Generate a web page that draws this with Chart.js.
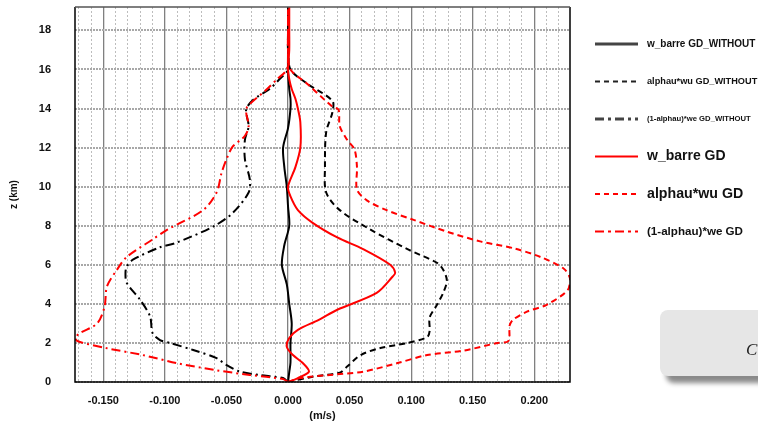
<!DOCTYPE html>
<html>
<head>
<meta charset="utf-8">
<script src="https://cdn.jsdelivr.net/npm/chart.js@4.4.0/dist/chart.umd.min.js"></script>
<style>
  html, body { margin: 0; padding: 0; background: #fff; }
  #wrap { position: relative; width: 758px; height: 423px; overflow: hidden; }
  #note { position: absolute; left: 660px; top: 310px; width: 140px; height: 66px;
          background: #e6e6e6; border-radius: 8px; box-shadow: 6px 7px 5px #8a8a8a; }
  #note span { position: absolute; left: 86px; top: 30px; font: italic 17px "Liberation Serif", serif; color: #222; }
</style>
</head>
<body>
<div id="wrap">
  <canvas id="myChart" width="758" height="423"></canvas>
  <div id="note"><span>C</span></div>
</div>
<script>
// tick labels
var xTicks = [-0.15, -0.10, -0.05, 0.00, 0.05, 0.10, 0.15, 0.20];
var yTicks = [0, 2, 4, 6, 8, 10, 12, 14, 16, 18];

// w_barre GD_WITHOUT
var zWbarreWithout = [0, 0.5, 1, 2, 3, 4, 5, 6, 7, 8, 9, 10, 11, 12, 13, 14, 14.5, 15, 16, 17, 18, 19.2];
var wbarreWithout  = [0, 0.001, 0.002, 0.002, 0.003, 0.001, -0.001, -0.005, -0.003, 0.001, 0.000, -0.001, -0.003, -0.004, 0.000, 0.002, 0.002, 0.001, 0, 0, 0, 0];

// alphau*wu GD_WITHOUT
var zWuWithout = [0, 0.27, 0.48, 0.79, 1.38, 1.74, 2.0, 2.3, 2.6, 3.3, 3.85, 4.56, 5.2, 5.75, 6.1, 6.8, 7.8, 8.8, 9.7, 11, 12.8, 13.8, 14.4, 15.3, 16, 17, 18, 19.2];
var wuWithout  = [0, 0.020, 0.042, 0.048, 0.059, 0.075, 0.097, 0.113, 0.115, 0.115, 0.120, 0.126, 0.129, 0.126, 0.121, 0.097, 0.067, 0.042, 0.031, 0.030, 0.031, 0.036, 0.036, 0.015, 0.002, 0, 0, 0];

// (1-alphau)*we GD_WITHOUT
var zWeWithout = [0, 0.2, 0.36, 0.53, 0.87, 1.22, 1.64, 2.0, 2.15, 2.5, 3.35, 4.2, 5.08, 5.6, 5.9, 6.26, 6.9, 7.1, 7.95, 8.65, 9.7, 10.36, 11.4, 12.4, 13.1, 13.95, 14.46, 15, 15.5, 16, 17, 18, 19.2];
var weWithout  = [0, -0.004, -0.023, -0.039, -0.050, -0.058, -0.077, -0.096, -0.104, -0.110, -0.112, -0.120, -0.131, -0.132, -0.131, -0.126, -0.104, -0.092, -0.061, -0.045, -0.032, -0.031, -0.035, -0.035, -0.032, -0.034, -0.028, -0.015, -0.007, 0, 0, 0, 0];

// w_barre GD
var zWbarreGd = [0, 0.2, 0.53, 0.97, 1.38, 1.8, 2.25, 2.67, 3.18, 3.7, 4.56, 5.4, 5.6, 6, 6.8, 7.4, 8.15, 8.8, 9.5, 10, 11, 12, 13.3, 14, 14.5, 15, 15.5, 16, 17, 18, 19.2];
var wbarreGd  = [0, 0.008, 0.017, 0.012, 0.004, -0.001, 0.001, 0.008, 0.025, 0.040, 0.072, 0.085, 0.087, 0.083, 0.061, 0.040, 0.020, 0.008, 0.002, 0, 0.006, 0.010, 0.010, 0.008, 0.006, 0.003, 0.001, 0, 0.001, 0.001, 0.001];

// alphau*wu GD
var zWuGd = [0, 0.2, 0.36, 0.53, 0.97, 1.38, 1.6, 2.0, 2.1, 2.9, 3.2, 3.6, 3.95, 4.7, 5.3, 5.8, 6.4, 6.85, 7.2, 7.7, 8.3, 8.8, 9.3, 9.85, 11, 11.9, 12.4, 13.1, 13.95, 14.1, 15.3, 16, 17, 18, 19.2];
var wuGd  = [0, 0.010, 0.034, 0.061, 0.089, 0.113, 0.142, 0.170, 0.179, 0.180, 0.183, 0.194, 0.210, 0.227, 0.229, 0.224, 0.205, 0.183, 0.156, 0.129, 0.102, 0.080, 0.064, 0.056, 0.056, 0.054, 0.048, 0.042, 0.041, 0.036, 0.015, 0.002, 0, 0, 0];

// (1-alphau)*we GD
var zWeGd = [0, 0.15, 0.36, 0.6, 0.96, 1.38, 1.74, 2.07, 2.25, 2.5, 3.0, 3.86, 4.9, 5.74, 6.4, 7.3, 7.8, 8.8, 9.7, 10.7, 11.4, 12.05, 12.6, 13.1, 13.8, 14.1, 15, 15.5, 16, 17, 18, 19.2];
var weGd  = [0, -0.004, -0.031, -0.058, -0.090, -0.118, -0.148, -0.170, -0.173, -0.169, -0.155, -0.149, -0.147, -0.139, -0.131, -0.110, -0.098, -0.069, -0.058, -0.054, -0.050, -0.045, -0.035, -0.032, -0.034, -0.033, -0.017, -0.009, -0.001, 0, 0, 0];

function pts(zs, vs) {
  return zs.map(function(z, i) { return {x: vs[i], y: z}; });
}

var DASH = [6, 4];
var DASHDOT = [9, 4, 2, 4];

var datasets = [
  {label: 'w_barre GD_WITHOUT', data: pts(zWbarreWithout, wbarreWithout), borderColor: '#000', borderDash: [], order: 3, legendColor: '#444', legendSize: 10, legendWidth: 3},
  {label: 'alphau*wu GD_WITHOUT', data: pts(zWuWithout, wuWithout), borderColor: '#000', borderDash: DASH, order: 3, legendColor: '#222', legendSize: 9.2, legendWidth: 2},
  {label: '(1-alphau)*we GD_WITHOUT', data: pts(zWeWithout, weWithout), borderColor: '#000', borderDash: DASHDOT, order: 3, legendColor: '#444', legendSize: 7.7, legendWidth: 3},
  {label: 'w_barre GD', data: pts(zWbarreGd, wbarreGd), borderColor: '#ff0000', borderDash: [], order: 0, legendColor: '#ff0000', legendSize: 14, legendWidth: 2},
  {label: 'alphau*wu GD', data: pts(zWuGd, wuGd), borderColor: '#ff0000', borderDash: DASH, order: 1, legendColor: '#ff0000', legendSize: 14.2, legendWidth: 2},
  {label: '(1-alphau)*we GD', data: pts(zWeGd, weGd), borderColor: '#ff0000', borderDash: DASHDOT, order: 2, legendColor: '#ff0000', legendSize: 11.6, legendWidth: 2}
];
datasets.forEach(function(d) {
  d.showLine = true;
  d.pointRadius = 0;
  d.borderWidth = 2;
  d.tension = 0.3;
  d.fill = false;
});

// legend with different font sizes per entry + plot frame
var sidePlugin = {
  id: 'side',
  afterDraw: function(chart) {
    var ctx = chart.ctx, a = chart.chartArea;
    ctx.save();
    ctx.lineWidth = 1.5;
    ctx.strokeStyle = '#000';
    ctx.beginPath();
    ctx.moveTo(a.left, a.top); ctx.lineTo(a.left, a.bottom);
    ctx.lineTo(a.right, a.bottom); ctx.lineTo(a.right, a.top);
    ctx.stroke();
    ctx.strokeStyle = '#555';
    ctx.beginPath();
    ctx.moveTo(a.left, a.top); ctx.lineTo(a.right, a.top);
    ctx.stroke();

    chart.data.datasets.forEach(function(d, i) {
      var y = 44 + i * 37.5;
      ctx.strokeStyle = d.legendColor;
      ctx.lineWidth = d.legendWidth;
      ctx.setLineDash(d.borderDash.length ? (d.borderDash.length == 2 ? [5, 4] : [9, 4, 3, 4]) : []);
      ctx.beginPath();
      ctx.moveTo(595, y); ctx.lineTo(638, y);
      ctx.stroke();
      ctx.setLineDash([]);
      ctx.fillStyle = '#111';
      ctx.font = 'bold ' + d.legendSize + 'px "Liberation Sans", Arial, sans-serif';
      ctx.textBaseline = 'middle';
      ctx.textAlign = 'left';
      ctx.fillText(d.label, 647, y);
    });
    ctx.restore();
  }
};

var config = {
  type: 'scatter',
  data: {datasets: datasets},
  options: {
    responsive: false,
    animation: false,
    layout: {padding: {top: 7, right: 188, left: 0, bottom: 0}},
    plugins: {legend: {display: false}, tooltip: {enabled: false}},
    scales: {
      x: {
        type: 'linear',
        min: -0.173,
        max: 0.229,
        afterBuildTicks: function(scale) {
          var t = [];
          for (var k = -17; k <= 22; k++) t.push({value: k / 100});
          scale.ticks = t;
        },
        afterFit: function(scale) {
          scale.height = 41;
          scale.paddingLeft = 0;
          scale.paddingRight = 0;
        },
        ticks: {
          padding: 12,
          color: '#111',
          font: {family: '"Liberation Sans", Arial, sans-serif', size: 11, weight: 'bold'},
          autoSkip: false,
          maxRotation: 0,
          callback: function(v) {
            var k = Math.round(v * 100);
            return k % 5 === 0 ? (k / 100).toFixed(3) : '';
          }
        },
        grid: {
          drawTicks: false,
          color: function(c) {
            if (!c.tick) return '#999';
            return Math.round(c.tick.value * 100) % 5 === 0 ? '#808080' : '#bdbdbd';
          },
          lineWidth: function(c) {
            if (!c.tick) return 1;
            return Math.round(c.tick.value * 100) % 5 === 0 ? 1.3 : 1;
          }
        },
        border: {
          display: false,
          dash: function(c) {
            if (!c.tick) return [];
            return Math.round(c.tick.value * 100) % 5 === 0 ? [] : [2, 2];
          }
        },
        title: {
          display: true,
          text: '(m/s)',
          color: '#111',
          padding: {top: 0, bottom: 0},
          font: {family: '"Liberation Sans", Arial, sans-serif', size: 11, weight: 'bold'}
        }
      },
      y: {
        type: 'linear',
        min: 0,
        max: 19.2,
        afterBuildTicks: function(scale) {
          scale.ticks = yTicks.map(function(v) { return {value: v}; });
        },
        afterFit: function(scale) {
          scale.width = 75;
          scale.paddingTop = 0;
          scale.paddingBottom = 0;
        },
        ticks: {
          padding: 24,
          color: '#111',
          font: {family: '"Liberation Sans", Arial, sans-serif', size: 11, weight: 'bold'}
        },
        grid: {drawTicks: false, color: '#a8a8a8', lineWidth: 2},
        border: {display: false, dash: [2, 1]},
        title: {
          display: true,
          text: 'z (km)',
          color: '#111',
          padding: {top: 8, bottom: 0},
          font: {family: '"Liberation Sans", Arial, sans-serif', size: 10, weight: 'bold'}
        }
      }
    }
  },
  plugins: [sidePlugin]
};

var ctx = document.getElementById('myChart').getContext('2d');
var myChart = new Chart(ctx, config);
</script>
</body>
</html>
